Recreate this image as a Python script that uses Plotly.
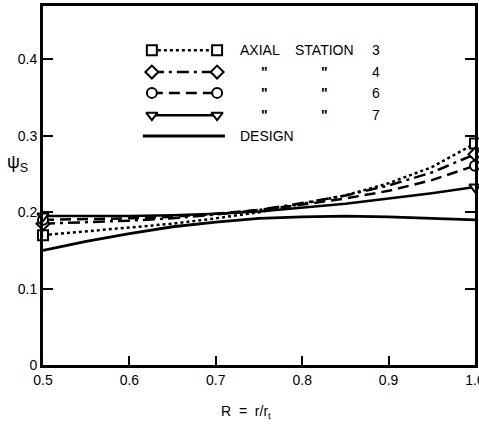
import plotly.graph_objects as go

R = [0.5, 0.55, 0.6, 0.65, 0.7, 0.75, 0.8, 0.85, 0.9, 0.95, 1.0]
station3 = [0.170, 0.175, 0.180, 0.185, 0.192, 0.200, 0.211, 0.222, 0.238, 0.259, 0.290]
station4 = [0.185, 0.187, 0.189, 0.192, 0.197, 0.203, 0.212, 0.222, 0.235, 0.252, 0.276]
station6 = [0.190, 0.191, 0.192, 0.194, 0.198, 0.203, 0.210, 0.218, 0.228, 0.242, 0.261]
station7 = [0.195, 0.195, 0.195, 0.196, 0.198, 0.201, 0.206, 0.211, 0.218, 0.225, 0.233]
design = [0.150, 0.162, 0.172, 0.181, 0.187, 0.192, 0.194, 0.195, 0.194, 0.192, 0.190]

stations = ["3", "4", "6", "7"]
symbols = ["square", "diamond", "circle", "triangle-down"]
dashes = ["dot", "12px,5px,3px,5px", "11px,6px", "solid"]
series = [station3, station4, station6, station7]

xticks = [0.5, 0.6, 0.7, 0.8, 0.9, 1.0]
yticks = [0, 0.1, 0.2, 0.3, 0.4]

FONT = "Liberation Sans"
fig = go.Figure()

for ys, sym, dsh in zip(series, symbols, dashes):
    fig.add_trace(go.Scatter(
        x=R, y=ys, mode="lines", line=dict(color="black", width=2.5, dash=dsh),
        showlegend=False, hoverinfo="skip"))

fig.add_trace(go.Scatter(
    x=R, y=design, mode="lines", line=dict(color="black", width=2.8),
    showlegend=False, hoverinfo="skip"))

for ys, sym in zip(series, symbols):
    fig.add_trace(go.Scatter(
        x=[R[0], R[-1]], y=[ys[0], ys[-1]], mode="markers",
        marker=dict(symbol=sym, size=10, color="white",
                    line=dict(color="black", width=2)),
        cliponaxis=False, showlegend=False, hoverinfo="skip"))

# legend built on an overlay axis (0-1 coordinates)
leg_rows = [0.877, 0.816, 0.758, 0.696, 0.638]
lx0, lx1 = 0.252, 0.403
for i, (sym, dsh) in enumerate(zip(symbols, dashes)):
    yy = leg_rows[i]
    fig.add_trace(go.Scatter(
        x=[lx0, lx1], y=[yy, yy], xaxis="x2", yaxis="y2", mode="lines+markers",
        line=dict(color="black", width=2.5, dash=dsh),
        marker=dict(symbol=sym, size=10, color="white", line=dict(color="black", width=2)),
        showlegend=False, hoverinfo="skip"))
fig.add_trace(go.Scatter(
    x=[0.231, 0.421], y=[leg_rows[4]] * 2, xaxis="x2", yaxis="y2", mode="lines",
    line=dict(color="black", width=3), showlegend=False, hoverinfo="skip"))

ann = []
tf = dict(family=FONT, size=14, color="black")
def txt(x, y, t, anchor="left", font=tf):
    ann.append(dict(x=x, y=y, xref="x2", yref="y2", text=t, showarrow=False,
                    xanchor=anchor, yanchor="middle", font=font))

txt(0.451, leg_rows[0], "AXIAL")
txt(0.579, leg_rows[0], "STATION")
txt(0.771, leg_rows[0], stations[0], "center")
for i, st in enumerate(stations[1:], start=1):
    txt(0.513, leg_rows[i], "<b>\"</b>", "center")
    txt(0.652, leg_rows[i], "<b>\"</b>", "center")
    txt(0.771, leg_rows[i], st, "center")
txt(0.451, leg_rows[4], "DESIGN")

ann.append(dict(x=-0.058, y=0.56, xref="paper", yref="paper", text="ψ<sub>S</sub>",
                showarrow=False, xanchor="center", yanchor="middle",
                font=dict(family=FONT, size=18, color="black")))
ann.append(dict(x=0.47, y=-0.13, xref="paper", yref="paper", text="R  =  r/r<sub>t</sub>",
                showarrow=False, xanchor="center", yanchor="middle",
                font=dict(family=FONT, size=14, color="black")))

fig.update_layout(
    width=479, height=448,
    margin=dict(l=43, r=4, t=6, b=83, autoexpand=False),
    paper_bgcolor="white", plot_bgcolor="white",
    annotations=ann,
    xaxis=dict(range=[0.5, 1.0], tickvals=xticks,
               ticktext=["0.5", "0.6", "0.7", "0.8", "0.9", "1.0"],
               ticks="inside", ticklen=9, tickwidth=2, tickcolor="black",
               showline=True, linewidth=3, linecolor="black", mirror=True,
               showgrid=False, zeroline=False, ticklabeloverflow="allow",
               automargin=False,
               tickfont=dict(family=FONT, size=14, color="black")),
    yaxis=dict(range=[0, 0.47], tickvals=yticks,
               ticktext=["0", "0.1", "0.2", "0.3", "0.4"],
               ticks="inside", ticklen=10, tickwidth=2, tickcolor="black",
               showline=True, linewidth=3, linecolor="black", mirror="ticks",
               showgrid=False, zeroline=False, ticklabeloverflow="allow",
               automargin=False,
               tickfont=dict(family=FONT, size=14, color="black")),
    xaxis2=dict(range=[0, 1], overlaying="x", visible=False, fixedrange=True),
    yaxis2=dict(range=[0, 1], overlaying="y", visible=False, fixedrange=True),
)

fig.write_html("out.html")
